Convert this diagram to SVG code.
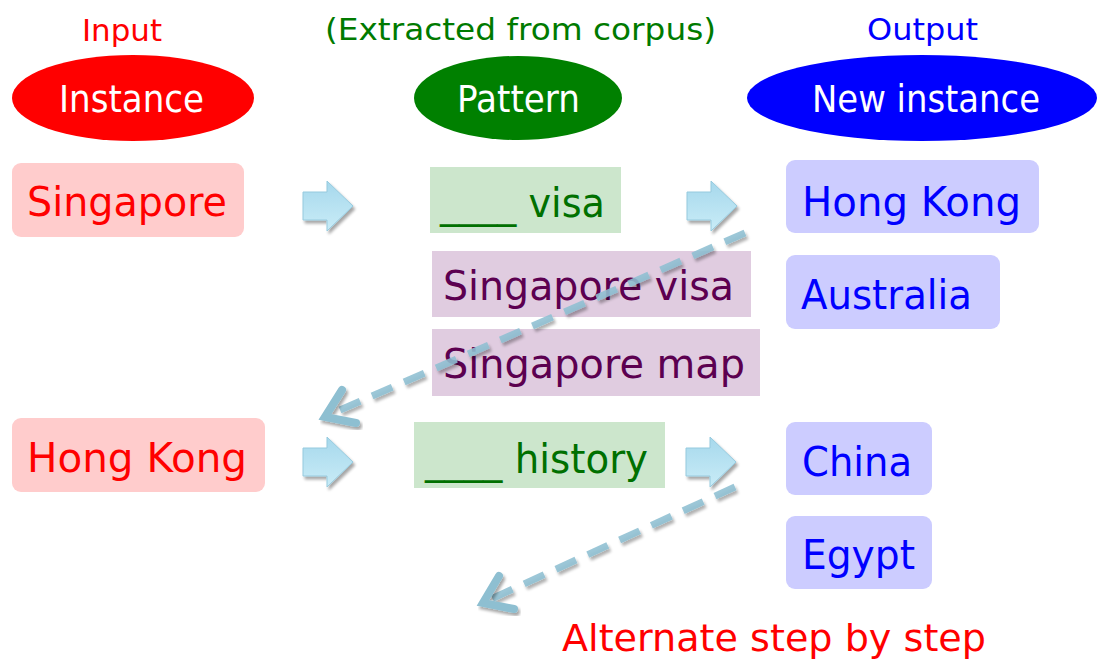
<svg xmlns="http://www.w3.org/2000/svg" width="1099" height="661" viewBox="0 0 1099 661">
  <defs>
    <style>
      text { font-family: "DejaVu Sans", Verdana, sans-serif; }
      .hdr { font-size: 31px; }
      .oval { font-size: 37px; fill: #ffffff; }
      .lbl { font-size: 40px; }
      .cap { font-size: 38px; }
      .inst { fill: #ffcccc; }
      .inst-t { fill: #ff0000; }
      .pat { fill: #cce6cc; }
      .pat-t { fill: #007000; }
      .ex { fill: #e0cce0; }
      .ex-t { fill: #5c0050; }
      .out { fill: #ccccff; }
      .out-t { fill: #0000ff; }
      .blk { fill: url(#blkFill); stroke: #96cade; stroke-width: 1; filter: url(#shadow); }
      .dash { fill: none; stroke: #8ebfd1; stroke-opacity: 0.88; stroke-width: 7; stroke-dasharray: 22 13; filter: url(#shadow); }
      .head { fill: none; stroke: #8ebfd1; stroke-width: 8; stroke-linejoin: miter; stroke-linecap: round; filter: url(#shadow); }
    </style>
    <linearGradient id="blkFill" x1="0" y1="0" x2="0" y2="1">
      <stop offset="0" stop-color="#a6d8ec"/>
      <stop offset="1" stop-color="#c9ecf7"/>
    </linearGradient>
    <filter id="shadow" x="-20%" y="-20%" width="140%" height="140%">
      <feGaussianBlur in="SourceAlpha" stdDeviation="1.6"/>
      <feOffset dx="2" dy="3" result="off"/>
      <feComponentTransfer><feFuncA type="linear" slope="0.35"/></feComponentTransfer>
      <feMerge><feMergeNode/><feMergeNode in="SourceGraphic"/></feMerge>
    </filter>
    <path id="arrowBlk" d="M0,-14 L24,-14 L24,-25 L50,0 L24,25 L24,14 L0,14 Z"/>
  </defs>

  <!-- column headers -->
  <g id="headers">
    <text class="hdr" x="82" y="41" fill="#ff0000" textLength="80" lengthAdjust="spacingAndGlyphs">Input</text>
    <text class="hdr" x="325" y="40" fill="#007a00" textLength="391" lengthAdjust="spacingAndGlyphs">(Extracted from corpus)</text>
    <text class="hdr" x="867" y="40" fill="#0000ff" textLength="111" lengthAdjust="spacingAndGlyphs">Output</text>
  </g>

  <g id="col-instance">
    <ellipse cx="133" cy="98" rx="121" ry="43" fill="#ff0000"/>
    <text class="oval" x="59" y="112" textLength="145" lengthAdjust="spacingAndGlyphs">Instance</text>
  </g>
  <g id="col-pattern">
    <ellipse cx="518" cy="98" rx="104" ry="42" fill="#008000"/>
    <text class="oval" x="457" y="112" textLength="123" lengthAdjust="spacingAndGlyphs">Pattern</text>
  </g>
  <g id="col-new-instance">
    <ellipse cx="922" cy="98" rx="175" ry="43" fill="#0000ff"/>
    <text class="oval" x="812" y="112" textLength="228" lengthAdjust="spacingAndGlyphs">New instance</text>
  </g>

  <!-- input instances -->
  <g id="in-singapore">
    <rect class="inst" x="12" y="163" width="232" height="74" rx="9"/>
    <text class="lbl inst-t" x="27" y="216" textLength="200" lengthAdjust="spacingAndGlyphs">Singapore</text>
  </g>
  <g id="in-hongkong">
    <rect class="inst" x="12" y="418" width="253" height="74" rx="9"/>
    <text class="lbl inst-t" x="27" y="472" textLength="220" lengthAdjust="spacingAndGlyphs">Hong Kong</text>
  </g>

  <!-- patterns -->
  <g id="pat-visa">
    <rect class="pat" x="430" y="167" width="191" height="66"/>
    <text class="lbl pat-t" x="440" y="217" textLength="165" lengthAdjust="spacingAndGlyphs">____ visa</text>
  </g>
  <g id="ex-singapore-visa">
    <rect class="ex" x="432" y="251" width="319" height="66"/>
    <text class="lbl ex-t" x="443" y="300" textLength="291" lengthAdjust="spacingAndGlyphs">Singapore visa</text>
  </g>
  <g id="ex-singapore-map">
    <rect class="ex" x="432" y="329" width="328" height="67"/>
    <text class="lbl ex-t" x="443" y="378" textLength="302" lengthAdjust="spacingAndGlyphs">Singapore map</text>
  </g>
  <g id="pat-history">
    <rect class="pat" x="414" y="422" width="251" height="66"/>
    <text class="lbl pat-t" x="425" y="473" textLength="223" lengthAdjust="spacingAndGlyphs">____ history</text>
  </g>

  <!-- output instances -->
  <g id="out-hongkong">
    <rect class="out" x="786" y="160" width="253" height="73" rx="9"/>
    <text class="lbl out-t" x="802" y="216" textLength="219" lengthAdjust="spacingAndGlyphs">Hong Kong</text>
  </g>
  <g id="out-australia">
    <rect class="out" x="786" y="255" width="214" height="74" rx="9"/>
    <text class="lbl out-t" x="801" y="309" textLength="171" lengthAdjust="spacingAndGlyphs">Australia</text>
  </g>
  <g id="out-china">
    <rect class="out" x="786" y="422" width="146" height="73" rx="9"/>
    <text class="lbl out-t" x="802" y="476" textLength="110" lengthAdjust="spacingAndGlyphs">China</text>
  </g>
  <g id="out-egypt">
    <rect class="out" x="786" y="516" width="146" height="73" rx="9"/>
    <text class="lbl out-t" x="802" y="569" textLength="113" lengthAdjust="spacingAndGlyphs">Egypt</text>
  </g>

  <!-- connectors -->
  <g id="connectors">
    <use href="#arrowBlk" class="blk" x="303" y="206"/>
    <use href="#arrowBlk" class="blk" x="687" y="206"/>
    <use href="#arrowBlk" class="blk" x="303" y="462"/>
    <use href="#arrowBlk" class="blk" x="686" y="462"/>

    <path class="dash" d="M745,233 L331,414"/>
    <path class="head" d="M342,390 L325,417 L356,423"/>

    <path class="dash" d="M735,487 L489,600"/>
    <path class="head" d="M499,576 L483,603 L514,609"/>
  </g>

  <g id="caption">
    <text class="cap" x="562" y="651" fill="#ff0000" textLength="424" lengthAdjust="spacingAndGlyphs">Alternate step by step</text>
  </g>
</svg>
